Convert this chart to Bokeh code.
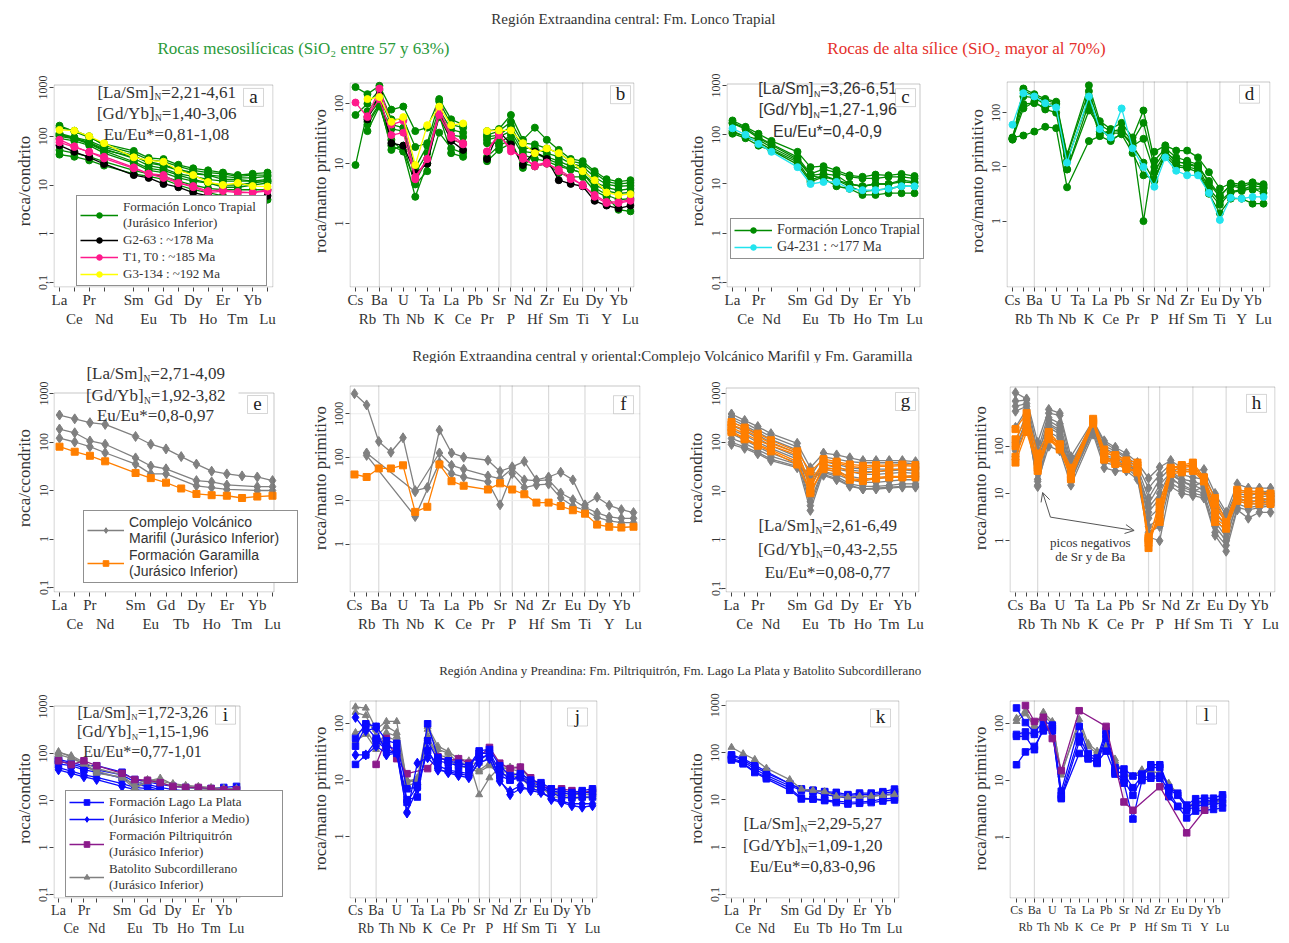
import math
from bokeh.plotting import figure
from bokeh.models import (FixedTicker, LinearAxis, Label, Legend, LegendItem, Arrow, OpenHead,
                          Span, CustomJSTickFormatter, Range1d, BoxAnnotation)
from bokeh.layouts import column, row
from bokeh.embed import file_html
from bokeh.resources import INLINE

SERIF = "Liberation Serif"
SANS = "Liberation Sans"
TXT = "#333333"

GREEN = "#008b00"; BLACK = "#000000"; PINK = "#ff1a8c"; YELLOW = "#ffff00"; CYAN = "#22e4ee"
GREY = "#808080"; ORANGE = "#ff7f00"; BLUE = "#0a0aff"; PURPLE = "#8b1a8b"

# ---------------- element lists / tick labels ----------------
REE_LABELS = ["La", "Ce", "Pr", "Nd", "Sm", "Eu", "Gd", "Tb", "Dy", "Ho", "Er", "Tm", "Yb", "Lu"]
REE_X = [0, 1, 2, 3, 5, 6, 7, 8, 9, 10, 11, 12, 13, 14]
SPIDER_LABELS = ["Cs", "Rb", "Ba", "Th", "U", "Nb", "Ta", "K", "La", "Ce", "Pb", "Pr", "Sr", "P",
                 "Nd", "Hf", "Zr", "Sm", "Eu", "Ti", "Dy", "Y", "Yb", "Lu"]
SPIDER_X = list(range(24))
SPIDER_VLINES = [2, 12, 13, 16, 19]

# ---------------- data (normalised values) ----------------
A_GREEN = [
    [165, 125, 95, 70, 50, 36, 34, 26, 22, 20, 18, 16, 17, 18],
    [150, 130, 100, 65, 45, 33, 30, 24, 20, 18, 17, 15, 16, 16],
    [115, 95, 80, 60, 40, 28, 25, 20, 17, 16, 15, 14, 14, 15],
    [105, 92, 75, 55, 35, 25, 22, 17, 15, 13, 12, 12, 12, 13],
    [100, 88, 70, 50, 30, 22, 20, 16, 13, 11, 10, 10, 11, 12],
    [90, 80, 65, 45, 28, 20, 18, 14, 12, 11, 9, 9, 10, 11],
    [52, 45, 38, 30, 20, 17, 15, 12, 10, 8.5, 8, 8, 8, 8],
    [42, 38, 32, 25, 17, 15, 13, 10, 8, 7, 6, 6, 5.5, 5],
    [110, 90, 72, 52, 38, 30, 26, 21, 18, 16, 13, 13, 12, 12],
]
A_BLACK = [[65, 48, 37, 27, 16, 14, 10.5, 9, 7, 6, 5, 5.3, 5.5, 6]]
A_PINK = [[85, 62, 47, 38, 23, 17, 14, 11, 9, 7, 7.5, 7, 7, 7.5],
          [75, 60, 48, 35, 22, 17, 16, 11, 9.5, 7.5, 8, 7.2, 7, 8]]
A_YELLOW = [[135, 130, 100, 72, 37, 32, 30, 20, 16, 11.5, 10, 11, 9.5, 9.3]]

B_GREEN = [
    [190, 145, 200, 80, 90, 35, 40, 120, 55, 45, None, 35, 38, 65, 25, 40, 25, 17, 12, 11, 7.5, 5.5, 5, 5.3],
    [65, 100, 170, 55, 55, 19, 22, 110, 45, 40, None, 30, 35, 50, 22, 21, 18, 15, 11, 10, 7, 5, 4.6, 4.8],
    [9.5, 75, 130, 45, 40, 8.5, 20, 80, 37, 33, None, 28, 30, 42, 18, 18, 15, 13, 10, 9, 6, 4.5, 4.2, 4.3],
    [None, 50, 100, 38, 35, 7, 15, 70, 30, 28, None, 25, 28, 35, 16, 15, 13, 11, 9, 8, 5, 4, 3.6, 3.8],
    [None, 35, 90, 25, 16, 5, 12, 60, 25, 22, None, 22, 22, 30, 14, 12, 11, 9, 8, 7, 4.5, 3.5, 3.2, 3.3],
    [None, 60, 110, 17, 20, 4.5, 7.5, 33, 18, 15, None, 11, 17, 22, 10, 9, 10, 7, 6, 6, 3.5, 2.8, 1.7, 1.6],
    [None, 45, 95, 20, 16, 2.8, 10, 65, 15, 13, None, 13, 20, 25, 8.5, 15, 12, 10, 8, 7, 4, 3, 2.5, 2.6],
]
B_BLACK = [[None, 55, 140, 22, 20, 7, 10, 70, 24, 17, None, 12, 35, 21, 9.5, 16, 12, 5.3, 4.6, 4.2, 2.4, 2.0, 1.8, 2.0]]
B_PINK = [[105, 60, 180, 45, 52, 6, 12, 80, 30, 22, None, 16, 32, 16, 13, 9, 10, 8, 6, 4.3, 3, 2.3, 2.3, 2.5],
          [None, 62, 120, 30, 33, 5.5, 12, 65, 27, 21, None, 16, 30, 18, 12, 9.5, 10.5, 7.5, 5.5, 4.5, 2.8, 2.2, 2.2, 2.4]]
B_YELLOW = [[None, 120, 130, 50, 60, 9.5, 44, 90, 44, 47, None, 35, 36, 36, 22, 15, 18, 15, 11, 7.5, 5.3, 3.3, 3.0, 3.1]]

C_GREEN = [
    [195, 145, 105, 75, 45, 22, 23, 19, 15, 14, 15.5, 15, 16, 14.5],
    [175, 140, 90, 65, 35, 16, 20, 17, 14, 13, 13, 14, 14, 13],
    [110, 95, 80, 55, 30, 15, 16, 15, 10, 9, 10, 10, 12, 11],
    [105, 85, 60, 48, 25, 11, 14, 12, 9, 7, 7.5, 8, 9, 9],
    [170, 130, 85, 62, 32, 15, 13, 9, 8, 6, 6, 6.5, 6.5, 6.5],
    [120, 90, 70, 50, 28, 12, 15, 12, 10, 9, 10, 10, 11, 10.5],
]
C_CYAN = [[135, 100, 65, 45, 22, 10, 11, 11, 8, 7.5, 7.5, 8, 9, 9]]

D_GREEN = [
    [35, 38, 45, 55, 52, 4.2, None, 30, 37, 30, 42, 28, 1.0, 19, 25, 20, 20, 15, 8, 4, 5, 4.8, 5.2, 4.8],
    [32, 280, 220, 180, 160, 17, None, 320, 70, 50, 65, 35, 110, 13, 22, 15, 13, 11, 5, 2.8, 4.8, 4.3, 5, 4.5],
    [33, 260, 200, 170, 150, 16, None, 250, 60, 45, 50, 30, 65, 10, 20, 12, 12, 10, 4, 2.3, 3.5, 3.8, 4.5, 4.2],
    [34, 145, 150, 125, 140, 9, None, 150, 40, 48, 45, 24, 33, 8, 18, 11, 10, 9, 3.5, 2.0, 3.4, 3.6, 4, 3.3],
    [33, 120, 160, 115, 100, 9, None, 110, 55, 32, 40, 18, 7, 6, 16, 10, 9.5, 8, 3.2, 1.4, 2.6, 2.6, 2.1, 2.1],
    [32, 200, 190, 140, 150, 13, None, 180, 45, 42, 42, 25, 12, 5.5, 19, 13, 11, 10, 5.5, 3, 4.5, 4, 3.8, 4.0],
]
D_CYAN = [[60, 230, 200, 150, 125, 12, None, 200, 50, 35, 120, 22, 10, 4.3, 15, 8.5, 7, 7, 3.3, 1.05, 2.7, 2.6, 2.8, 2.8]]

E_GREY = [
    [360, 300, 250, 230, 130, 90, 72, 50, 35, 25, 22, 20, 19, 16],
    [185, 155, 105, 90, 47, 32, 28, None, 16, 15, 13, None, 12, 12],
    [120, 100, 80, 60, 35, 22, 22, None, 12.5, 11.5, 10.5, None, 10, 10],
]
E_ORANGE = [[80, 63, 52, 40, 23, 18, 14.5, 11, 8.5, 8, 7.8, 7, 7.5, 7.8]]

F_GREY = [
    [2900, 1600, 230, 130, 280, 17, 20, 420, 125, 100, None, 85, 47, 60, 80, 30, 35, 45, 30, 8, 12, 7.8, 6.2, 5.3],
    [None, 125, None, None, None, 16, None, 125, 65, 53, None, 37, 32, 55, 30, 29, 30, 15, 10.5, 7, 5.2, 4.2, 3.9, 3.9],
    [None, 110, None, None, None, 4.3, None, 75, 42, 35, None, 27, 8, 42, 20, 23, 24, 11.5, 7.5, 6, 4.1, 3.4, 3.1, 3.1],
]
F_ORANGE = [[40, 35, 55, 55, 65, 5.5, 7.2, 68, 28, 22, None, 18, 25, 18, 14, 9, 9, 7.5, 6, 5, 2.8, 2.5, 2.4, 2.5]]

G_GREY = [
    [380, 280, 210, 150, 95, 30, 60, 55, 48, 42, 42, 42, 42, 40],
    [330, 250, 180, 130, 80, 20, 50, 45, 40, 38, 38, 38, 38, 36],
    [300, 220, 160, 115, 70, 12, 40, 35, 30, 28, 28, 28, 28, 28],
    [260, 200, 140, 100, 60, 8, 35, 30, 27, 25, 25, 26, 27, 26],
    [220, 170, 120, 85, 50, 6, 30, 28, 25, 22, 22, 23, 24, 23],
    [180, 140, 100, 75, 45, 5, 28, 25, 20, 18, 18, 19, 20, 20],
    [150, 110, 80, 60, 38, 4, 25, 22, 17, 15, 15, 16, 17, 17],
    [120, 95, 70, 52, 35, 18, 24, 20, 14, 12.5, 12.5, 13, 14, 14],
    [100, 80, 62, 45, 32, 22, 22, 18, 13, 11, 11, 11.5, 12, 12],
    [90, 75, 58, 42, 30, 25, 21, 17, 12.5, 11, 11.5, 12, 12.5, 12.5],
]
G_ORANGE = [
    [260, 200, 150, 110, 65, 25, 45, 40, 35, 33, 34, 34, 35, 34],
    [230, 180, 130, 95, 60, 15, 40, 38, 32, 30, 32, 32, 33, 32],
    [200, 150, 110, 85, 55, 12, 35, 32, 25, 23, 25, 27, 28, 27],
    [170, 120, 90, 70, 40, 9, 30, 28, 18, 17, 19, 20, 20, 21],
    [160, 115, 85, 65, 35, 10, 28, 25, 17, 16, 18, 19, 19, 19],
]

H_GREY = [
    [1350, 1000, 120, 600, 500, 60, None, 350, 130, 95, 70, 45, 21, 36, 50, 35, 30, 32, 10, 4, 16, 13, 13, 13],
    [900, 950, 80, 500, 450, 45, None, 320, 120, 85, 60, 40, 13, 25, 42, 30, 28, 25, 8, 3.5, 12, 11, 11, 11],
    [700, 800, 60, 400, 300, 40, None, 300, 100, 80, 55, 35, 8, 20, 35, 25, 22, 20, 6, 3, 10, 9, 10, 10],
    [550, 700, 30, 350, 250, 35, None, 280, 90, 70, 50, 30, 5, 10, 30, 20, 18, 15, 4, 2, 9, 8, 8.5, 9],
    [250, 600, 20, 280, 200, 30, None, 250, 75, 60, 45, 28, 3, 5, 25, 18, 15, 12, 3, 1.5, 8, 7, 7, 8],
    [120, 500, 15, 200, 150, 25, None, 220, 60, 50, 40, 25, 2, 3, 20, 15, 12, 10, 2, 1, 7, 6, 6, 7],
    [80, 400, 14, 150, 120, 20, None, 200, 45, 40, 35, 22, 1.5, 2, 17, 12, 10, 9, 1.5, 0.8, 5, 4.5, 5, 5.5],
    [60, 300, 18, 100, 80, 15, None, 180, 35, 30, 30, 20, 1.2, 1.0, 14, 10, 9, 8, 1.3, 0.6, 4.5, 3, 4, 4],
    [100, 350, 50, 250, 180, 18, None, 230, 55, 45, 38, 26, 4, 8, 22, 14, 11, 14, 2.5, 1.2, 6, 5, 5.5, 6],
    [60, 450, 70, 300, 220, 22, None, 260, 65, 55, 42, 28, 6, 15, 28, 18, 14, 18, 5, 2.5, 8, 6.5, 7, 7.5],
]
H_ORANGE = [
    [230, 500, 70, 200, 110, 35, None, 380, 85, 65, 50, 45, 1.0, 6.5, 35, 40, 45, 22, 8, 2.5, 12, 11, 11, 10],
    [140, 400, 50, 180, 100, 30, None, 350, 75, 60, 45, 40, 0.7, 5, 33, 38, 40, 20, 6, 2.3, 11, 10, 10, 9],
    [100, 300, 40, 160, 90, 25, None, 320, 60, 48, 40, 35, 0.9, 4, 30, 35, 38, 20, 4, 2.2, 9, 8, 8, 7.5],
    [60, 250, 30, 140, 85, 22, None, 300, 55, 45, 35, 30, 1.1, 3, 28, 30, 33, 19, 3, 2.0, 8, 6.5, 7, 6.5],
    [45, 200, 35, 150, 95, 20, None, 330, 52, 42, 33, 28, 1.2, 2.5, 26, 28, 30, 18, 2.5, 1.8, 7, 6, 6, 6],
]

I_BLUE_SQ = [
    [75, 65, 55, 55, 40, 28, 25, 22, 20, 19, 18, 18, 19, 20],
    [70, 60, 50, 45, 35, 25, 22, 19, 17, 16, 14, 15, 16, 17],
    [60, 55, 45, 40, 30, 22, 20, 17, 15, 14, 13, 12, 13, 13],
]
I_BLUE_DIA = [
    [45, 38, 32, 28, 20, 17, 16, 15, 12, 11, 10, 9.5, 10, 10.5],
    [50, 42, 35, 31, 23, 19, 18, 16, 13, 12, 11, 11, 11, 11.5],
]
I_PURPLE = [[70, 58, 70, 55, 38, 28, 27, 24, 20, 19, 19, 18, 17, 17]]
I_GREY = [
    [105, 90, 65, 48, 35, 19, 26, 30, 22, 20, 19, 18, 18, 17],
    [95, 80, 60, 42, 30, 18, 25, 24, 20, 19, 18, 17, 17, 16],
    [110, 85, 60, 38, 32, 22, 28, 26, 23, 21, 20, 19, 18, 18],
]

J_GREY = [
    [200, 190, 80, 110, 110, 9, 11, 90, 40, 32, 24, 22, 5.5, 11, 17, 17, 17, 10, 8, 5, 6.5, 6, 6, 6],
    [160, 140, 60, 90, 70, 10, 10, 80, 35, 30, 20, 20, 20, 25, 16, 16, 14, 9, 7, 6, 6, 5.5, 5.5, 5.5],
    [70, 80, 40, 70, 60, 8, 9, 60, 28, 25, 20, 18, 15, 20, 14, 14, 12, 8, 7, 6, 5.5, 5, 5, 5],
    [50, 65, 35, 60, 50, 10, 9, 55, 25, 22, 18, 16, 14, 18, 13, 12, 11, 7.5, 6, 5, 5, 4.8, 4.8, 5],
]
J_BLUE_SQ = [
    [55, 100, 90, 50, 45, 7, 7.5, 100, 25, 22, 20, 18, 33, 35, 18, 12, 13, 10, 9, 7, 6.5, 6, 6.5, 7],
    [40, 90, 55, 40, 35, 4.5, 5, 50, 22, 20, 18, 17, 30, 30, 15, 10, 12, 9, 8, 6.5, 6, 5.5, 6, 6],
    [19, 28, 50, 35, 30, 4, 8, 33, 18, 15, 14, 13, 25, 28, 12, 10, 11, 8, 7.5, 6, 5, 4.8, 5, 5],
]
J_BLUE_DIA = [
    [130, 75, 85, 28, 30, 2.6, 20, 25, 16, 13.5, 12, 11, 22, 30, 10, 5.5, 7, 7, 6.5, 4.5, 4, 3.5, 3.3, 3.5],
    [28, 28, 40, 30, 32, 2.7, 7, 35, 15, 14, 13, 12, 20, 24, 9.5, 6.3, 8, 6.5, 6, 4.8, 4.2, 3.8, 3.8, 3.8],
]
J_PURPLE = [[None, None, 19, 55, 24, 13, None, 16, 26, 22, 24, 20, 26, 38, 20, 16, 17, 11, 8, 7, 7, 6.5, 6, 6.5]]

K_BLUE = [
    [90, 75, 55, 40, 22, 17, 16, 15, 14.5, 13, 14, 14, 15, 17],
    [85, 70, 50, 37, 22, 17, 16, 15, 13, 12.5, 13, 13, 14, 15],
    [75, 65, 45, 33, 20, 16, 15, 13, 12, 11, 11.5, 12, 13, 13.5],
    [72, 60, 40, 30, 18, 11, 10.5, 10, 9.5, 9, 9, 9.5, 10.5, 11],
    [70, 58, 38, 28, 16, 10.5, 10.5, 9.7, 8.8, 8.2, 8.5, 8.8, 9.5, 10],
]
K_GREY = [[130, 95, 72, 47, 27, 17, 16, 15, 12, 11.5, 12, 12, 12.5, 13]]

L_BLUE = [
    [190, 105, 70, 110, 95, 6.5, None, 90, 30, 25, 75, 17, 16, 12, 13, 19, 19, 7.5, 6, 3.7, 4.8, 4.9, 4.9, 5.6],
    [65, 72, 65, 80, 85, 5.5, None, 60, 28, 22, 65, 15, 13, 7.5, 12, 17, 17, 7, 5.5, 3.3, 4, 4.5, 4.3, 5],
    [19, 32, 40, 75, 80, 4.8, None, 48, 25, 20, 55, 14, 10, 5.5, 11, 12, 12, 6.5, 3.5, 3.0, 3.5, 3.8, 3.9, 4],
    [60, 60, 35, 85, 75, 5, None, 30, 24, 21, 33, 13, 9, 2.1, 10, 11, 11, 5.2, 3.5, 2.2, 2.9, 3.0, 3.1, 3.3],
]
L_PURPLE = [[None, 210, 110, 130, 55, 15, None, 170, None, None, 90, None, 4.2, 3.0, None, None, 7.8, None, None, 1.2, None, 3.0, None, None]]
L_GREY = [
    [125, 170, 95, 160, 110, 12.5, None, 120, 45, 33, 40, 24, 12, 12, 15.5, 14, 14, 9, 5.8, 3.2, 4.0, 4.0, 4.1, 4.4],
    [110, 150, 90, 140, 100, 14, None, 100, 40, 30, 35, 22, 13, 12, 15, 15, 13, 8.5, 5.5, 3.4, 4.2, 4.1, 4.3, 4.6],
]

# ---------------- layout geometry (page px) ----------------
COLS = [(0, 300), (300, 670), (670, 960), (960, 1289)]
# (row top, row height, common frame top, common frame bottom)
ROW1 = (60, 275, 74, 287)
ROW2 = (363, 287, 363, 592)
ROW3 = (685, 257, 698, 898)

W_SERIF = {"[": .333, "]": .333, "L": .611, "a": .444, "/": .278, "S": .556, "m": .778, "G": .722,
           "d": .5, "Y": .722, "b": .5, "=": .564, ",": .25, "-": .333, "N": .722}
W_SANS = {"[": .278, "]": .278, "L": .556, "a": .556, "/": .278, "S": .667, "m": .833, "G": .778,
          "d": .556, "Y": .667, "b": .556, "=": .584, ",": .278, "-": .333, "N": .722}


def text_w(s, font, size):
    tab = W_SERIF if font == SERIF else W_SANS
    dflt = .5 if font == SERIF else .556
    return sum(tab.get(ch, dflt) for ch in s) * size


def make_panel(c):
    fx0, fx1 = c["fig_x"]
    rtop, rh, ft, fb = c["row"]
    vl, vr = c["vis_x"]           # visual frame left/right
    vt, vb = c["vis_y"]           # visual frame top/bottom (reference)
    fl = vl
    fr = c.get("fr", vr)          # bokeh frame right (may extend)

    def act(y):
        return vt + (y - vt) * (fb - vt) / (vb - vt)

    def ref(y):
        return vt + (y - vt) * (vb - vt) / (fb - vt)

    if c["kind"] == "ree":
        labels, xpos = REE_LABELS, REE_X
    else:
        labels, xpos = SPIDER_LABELS, SPIDER_X
    px0, px1 = c["xcal"]
    unit = (px1 - px0) / (xpos[-1] - xpos[0])
    xlo = xpos[0] + (fl - px0) / unit
    xhi = xpos[0] + (fr - px0) / unit
    py1, v1, py2, v2 = c["ycal"]
    dpx = (py2 - py1) / (math.log10(v1) - math.log10(v2))

    def val(yref):
        return 10 ** (math.log10(v1) + (py1 - yref) / dpx)

    yhi = val(ref(ft))
    ylo = val(vb)
    yvis = val(vt)

    p = figure(width=fx1 - fx0, height=rh, y_axis_type="log", title=None,
               x_range=Range1d(xlo, xhi), y_range=Range1d(ylo, yhi),
               output_backend="svg", toolbar_location=None,
               min_border_left=fl - fx0, min_border_right=fx1 - fr,
               min_border_top=ft - rtop, min_border_bottom=rtop + rh - fb,
               background_fill_color="white", border_fill_color="white")
    p.outline_line_color = None
    p.xgrid.visible = False
    p.ygrid.visible = False

    def scr(px, py):
        return px - fl, fb - act(py)

    # y axis
    ya = p.yaxis[0]
    ya.ticker = FixedTicker(ticks=c["yticks"], minor_ticks=[])
    ya.formatter = CustomJSTickFormatter(code="return String(tick).replace('.', ',');")
    ya.major_label_orientation = "vertical"
    ya.major_label_text_font = SERIF
    ya.major_label_text_font_size = "12px"
    ya.major_label_text_color = TXT
    ya.major_label_standoff = 2
    ya.major_tick_out = 4
    ya.major_tick_in = 0
    ya.axis_line_color = None
    ya.major_tick_line_color = "#444444"
    ya.axis_label = c["ylabel"]
    ya.axis_label_text_font = SERIF
    ya.axis_label_text_font_size = "17px"
    ya.axis_label_text_font_style = "normal"
    ya.axis_label_text_color = TXT
    ya.axis_label_standoff = 3

    fs = c.get("xfont", "15px")
    top_lab = {xpos[i]: (labels[i] if i % 2 == 0 else "") for i in range(len(labels))}
    bot_ticks = [xpos[i] for i in range(len(labels)) if i % 2 == 1]
    bot_lab = {xpos[i]: labels[i] for i in range(len(labels)) if i % 2 == 1}
    xa = p.xaxis[0]
    xa.ticker = FixedTicker(ticks=xpos, minor_ticks=[])
    xa.major_label_overrides = top_lab
    xa.major_label_text_font = SERIF
    xa.major_label_text_font_size = fs
    xa.major_label_text_color = TXT
    xa.major_label_standoff = 0
    xa.major_tick_out = 4
    xa.major_tick_in = 0
    xa.axis_line_color = None
    xa.major_tick_line_color = "#444444"
    xb = LinearAxis(ticker=FixedTicker(ticks=bot_ticks, minor_ticks=[]),
                    major_label_overrides=bot_lab,
                    major_label_text_font=SERIF, major_label_text_font_size=fs,
                    major_label_text_color=TXT, major_label_standoff=0,
                    major_tick_out=0, major_tick_in=0, axis_line_color=None,
                    major_tick_line_color=None, minor_tick_line_color=None)
    p.add_layout(xb, "below")

    # grid lines limited to the visual frame
    if c["kind"] == "spider":
        vx = SPIDER_VLINES
        p.segment(x0=vx, y0=[ylo] * len(vx), x1=vx, y1=[yvis] * len(vx),
                  line_color="#dadada", line_width=1.2, level="underlay")
    if c.get("hgrid"):
        for v in c["yticks"]:
            p.add_layout(Span(location=v, dimension="width", line_color="#ececec",
                              line_width=1, level="underlay"))

    # data
    groups = {}
    for key, series, color, marker, size in c["series"]:
        first = None
        for s in series:
            xs, ys = [], []
            for x, v in zip(xpos, s):
                if v is None:
                    if not c.get("connect", True):
                        xs.append(x)
                        ys.append(float("nan"))
                    continue
                xs.append(x)
                ys.append(v)
            ln = p.line(xs, ys, line_color=color, line_width=1.3)
            mk = p.scatter(xs, ys, marker=marker, size=size, fill_color=color, line_color=color)
            if first is None:
                first = [ln, mk]
        groups[key] = first

    # visual frame box
    bx_r = vr - fl - 0.5
    bx_t = fb - vt - 0.5
    p.add_layout(BoxAnnotation(left=0.5, right=bx_r, bottom=0.5, top=bx_t,
                               left_units="screen", right_units="screen",
                               bottom_units="screen", top_units="screen",
                               fill_alpha=0.0, line_color="#444444", line_width=1,
                               level="annotation"))
    if "mask" in c:
        mx0, mx1, my0, my1 = c["mask"]
        a0, b0 = scr(mx0, my1)
        a1, b1 = scr(mx1, my0)
        p.add_layout(BoxAnnotation(left=a0, right=a1, bottom=b0, top=b1,
                                   left_units="screen", right_units="screen",
                                   bottom_units="screen", top_units="screen",
                                   fill_color="white", fill_alpha=1.0, line_color=None,
                                   level="annotation"))

    # stats text
    if "stats" in c:
        font, size, cx, lines = c["stats"]
        for item, py in lines:
            if isinstance(item, tuple):
                left, right = item
                wl = text_w(left, font, size)
                wn = text_w("N", font, size * 0.55)
                wr = text_w(right, font, size)
                x0 = cx - (wl + wn + wr) / 2
                sx, sy = scr(x0 + wl, py)
                p.add_layout(Label(x=sx, y=sy, x_units="screen", y_units="screen", text=left,
                                   text_font=font, text_font_size=f"{size}px", text_color=TXT,
                                   text_align="right", text_baseline="middle"))
                p.add_layout(Label(x=sx + 0.5, y=sy - 5, x_units="screen", y_units="screen", text="N",
                                   text_font=font, text_font_size=f"{size * 0.55:.1f}px",
                                   text_color=TXT, text_align="left", text_baseline="middle"))
                p.add_layout(Label(x=sx + wn + 0.5, y=sy, x_units="screen", y_units="screen", text=right,
                                   text_font=font, text_font_size=f"{size}px", text_color=TXT,
                                   text_align="left", text_baseline="middle"))
            else:
                sx, sy = scr(cx, py)
                p.add_layout(Label(x=sx, y=sy, x_units="screen", y_units="screen", text=item,
                                   text_font=font, text_font_size=f"{size}px", text_color=TXT,
                                   text_align="center", text_baseline="middle"))

    # letter box
    lx, ly = scr(*c["letter_pos"])
    p.add_layout(BoxAnnotation(left=lx - 10, right=lx + 10, bottom=ly - 9, top=ly + 9,
                               left_units="screen", right_units="screen",
                               bottom_units="screen", top_units="screen",
                               fill_color="white", fill_alpha=1.0, line_color="#777777",
                               line_width=1, level="annotation"))
    p.add_layout(Label(x=lx, y=ly + 1, x_units="screen", y_units="screen", text=c["letter"],
                       text_font=SERIF, text_font_size="19px", text_color="#222222",
                       text_align="center", text_baseline="middle"))

    # legend  (location = bottom-left corner, y up from frame bottom)
    if "legend" in c:
        lg = c["legend"]
        lx0, ly0 = scr(*lg["pos"])
        items = [LegendItem(label=lab, renderers=groups[key]) for key, lab in lg["items"]]
        leg = Legend(items=items, location=(lx0, max(ly0, 1)), label_text_font=lg["font"],
                     label_text_font_size=lg["size"], label_text_color=TXT,
                     label_text_line_height=1.0,
                     glyph_width=lg["glyph_w"], glyph_height=14, label_height=14,
                     label_width=lg["label_w"], label_standoff=5, spacing=1,
                     padding=3, margin=0, border_line_color="#222222", border_line_width=1.3,
                     background_fill_color="white", background_fill_alpha=1.0)
        p.add_layout(leg)

    if "extra" in c:
        c["extra"](p)
    return p


def h_annot(p):
    head = OpenHead(size=9, line_color="#555555", line_width=1)
    p.add_layout(Arrow(end=head, x_start=3.15, y_start=3.16, x_end=2.45, y_end=10.5,
                       line_color="#555555", line_width=1))
    head2 = OpenHead(size=9, line_color="#555555", line_width=1)
    p.add_layout(Arrow(end=head2, x_start=3.15, y_start=3.16, x_end=10.7, y_end=1.65,
                       line_color="#555555", line_width=1))
    p.add_layout(Label(x=6.75, y=0.91, text="picos negativos", text_font=SERIF,
                       text_font_size="13px", text_color=TXT, text_align="center",
                       text_baseline="middle"))
    p.add_layout(Label(x=6.75, y=0.46, text="de Sr y de Ba", text_font=SERIF,
                       text_font_size="13px", text_color=TXT, text_align="center",
                       text_baseline="middle"))


REE_T = [0.1, 1, 10, 100, 1000]
SP_T = [1, 10, 100]

panels = [
    dict(kind="ree", fig_x=COLS[0], row=ROW1, vis_x=(53, 273), vis_y=(84, 288), xcal=(59, 267),
         ycal=(87, 1000, 283, 0.1), yticks=REE_T, ylabel="roca/condrito", letter="a", letter_pos=(253, 97),
         series=[("g", A_GREEN, GREEN, "circle", 7), ("k", A_BLACK, BLACK, "circle", 7),
                 ("p", A_PINK, PINK, "circle", 7), ("y", A_YELLOW, YELLOW, "circle", 7)],
         stats=(SERIF, 17, 166, [(("[La/Sm]", "=2,21-4,61"), 92), (("[Gd/Yb]", "=1,40-3,06"), 113),
                                 ("Eu/Eu*=0,81-1,08", 134)]),
         legend=dict(pos=(76, 290), font=SERIF, size="13px", glyph_w=38, label_w=140,
                     items=[("g", "Formación Lonco Trapial\n(Jurásico Inferior)"), ("k", "G2-63 : ~178 Ma"),
                            ("p", "T1, T0 : ~185 Ma"), ("y", "G3-134 : ~192 Ma")])),
    dict(kind="spider", fig_x=COLS[1], row=ROW1, vis_x=(349, 634), vis_y=(82, 284), xcal=(355, 630),
         ycal=(103, 100, 221, 1), yticks=SP_T, ylabel="roca/manto primitivo", letter="b", letter_pos=(620, 94),
         connect=False,
         series=[("g", B_GREEN, GREEN, "circle", 7), ("k", B_BLACK, BLACK, "circle", 7),
                 ("p", B_PINK, PINK, "circle", 7), ("y", B_YELLOW, YELLOW, "circle", 7)]),
    dict(kind="ree", fig_x=COLS[2], row=ROW1, vis_x=(726, 920), vis_y=(83, 285), fr=930, xcal=(732, 914),
         ycal=(85, 1000, 280, 0.1), yticks=REE_T, ylabel="roca/condrito", letter="c", letter_pos=(905, 97),
         series=[("g", C_GREEN, GREEN, "circle", 7), ("c", C_CYAN, CYAN, "circle", 7)],
         stats=(SANS, 16, 827, [(("[La/Sm]", "=3,26-6,51"), 88), (("[Gd/Yb]", "=1,27-1,96"), 109),
                                ("Eu/Eu*=0,4-0,9", 131)]),
         legend=dict(pos=(730, 257), font=SERIF, size="14px", glyph_w=38, label_w=140,
                     items=[("g", "Formación Lonco Trapial"), ("c", "G4-231 : ~177 Ma")])),
    dict(kind="spider", fig_x=COLS[3], row=ROW1, vis_x=(1006, 1270), vis_y=(81, 292),
         xcal=(1012, 1263), ycal=(113, 100, 224, 1), yticks=SP_T, ylabel="roca/manto primitivo",
         letter="d", letter_pos=(1249, 94),
         series=[("g", D_GREEN, GREEN, "circle", 7), ("c", D_CYAN, CYAN, "circle", 7)]),
    dict(kind="ree", fig_x=COLS[0], row=ROW2, vis_x=(53, 274), vis_y=(392, 592), fr=300,
         xcal=(59, 272), ycal=(393, 1000, 587, 0.1), yticks=REE_T, ylabel="roca/ccondrito",
         letter="e", letter_pos=(257, 404), mask=(101, 238, 386, 397),
         series=[("gr", E_GREY, GREY, "diamond", 10), ("o", E_ORANGE, ORANGE, "square", 7)],
         stats=(SERIF, 17, 155, [(("[La/Sm]", "=2,71-4,09"), 373), (("[Gd/Yb]", "=1,92-3,82"), 395),
                                 ("Eu/Eu*=0,8-0,97", 415)]),
         legend=dict(pos=(83, 583), font=SANS, size="14px", glyph_w=37, label_w=165,
                     items=[("gr", "Complejo Volcánico\nMarifil (Jurásico Inferior)"),
                            ("o", "Formación Garamilla\n(Jurásico Inferior)")])),
    dict(kind="spider", fig_x=COLS[1], row=ROW2, vis_x=(349, 640), vis_y=(385, 590), xcal=(354, 633),
         ycal=(413, 1000, 542, 1), yticks=[1, 10, 100, 1000], ylabel="roca/manto primitivo", hgrid=True,
         letter="f", letter_pos=(623, 404),
         series=[("gr", F_GREY, GREY, "diamond", 10), ("o", F_ORANGE, ORANGE, "square", 7)]),
    dict(kind="ree", fig_x=COLS[2], row=ROW2, vis_x=(725, 919), vis_y=(387, 592), xcal=(731, 915),
         ycal=(393, 1000, 588, 0.1), yticks=REE_T, ylabel="roca/condrito", letter="g", letter_pos=(905, 401),
         series=[("gr", G_GREY, GREY, "diamond", 10), ("o", G_ORANGE, ORANGE, "square", 7)],
         stats=(SERIF, 17, 827, [(("[La/Sm]", "=2,61-6,49"), 525), (("[Gd/Yb]", "=0,43-2,55"), 549),
                                 ("Eu/Eu*=0,08-0,77", 572)])),
    dict(kind="spider", fig_x=COLS[3], row=ROW2, vis_x=(1009, 1275), vis_y=(386, 593), xcal=(1015, 1270),
         ycal=(446, 100, 541, 1), yticks=SP_T, ylabel="roca/manto primitivo", letter="h", letter_pos=(1256, 403),
         series=[("gr", H_GREY, GREY, "diamond", 10), ("o", H_ORANGE, ORANGE, "square", 7)],
         extra=h_annot),
    dict(kind="ree", fig_x=COLS[0], row=ROW3, vis_x=(53, 240), vis_y=(705, 904), fr=288,
         xcal=(58, 236), ycal=(706, 1000, 900, 0.1), yticks=REE_T, ylabel="roca/condrito", letter="i",
         letter_pos=(225, 715), xfont="14px",
         series=[("bs", I_BLUE_SQ, BLUE, "square", 6.5), ("bd", I_BLUE_DIA, BLUE, "diamond", 10),
                 ("gt", I_GREY, GREY, "triangle", 7), ("pu", I_PURPLE, PURPLE, "square", 6.5)],
         stats=(SERIF, 16, 142, [(("[La/Sm]", "=1,72-3,26"), 712), (("[Gd/Yb]", "=1,15-1,96"), 732),
                                 ("Eu/Eu*=0,77-1,01", 752)]),
         legend=dict(pos=(65, 904), font=SERIF, size="13px", glyph_w=35, label_w=170,
                     items=[("bs", "Formación Lago La Plata"), ("bd", "(Jurásico Inferior a Medio)"),
                            ("pu", "Formación Piltriquitrón\n(Jurásico Inferior)"),
                            ("gt", "Batolito Subcordillerano\n(Jurásico Inferior)")])),
    dict(kind="spider", fig_x=COLS[1], row=ROW3, vis_x=(349, 597), vis_y=(700, 904),
         xcal=(355, 592), ycal=(724, 100, 840, 1), yticks=SP_T, ylabel="roca/manto primitivo", letter="j",
         letter_pos=(577, 717), xfont="14px",
         series=[("gt", J_GREY, GREY, "triangle", 7), ("pu", J_PURPLE, PURPLE, "square", 6.5),
                 ("bs", J_BLUE_SQ, BLUE, "square", 6.5), ("bd", J_BLUE_DIA, BLUE, "diamond", 10)]),
    dict(kind="ree", fig_x=COLS[2], row=ROW3, vis_x=(725, 899), vis_y=(700, 904),
         xcal=(731, 894), ycal=(705, 1000, 900, 0.1), yticks=REE_T, ylabel="roca/condrito", letter="k",
         letter_pos=(880, 718), xfont="14px",
         series=[("bs", K_BLUE, BLUE, "square", 6.5), ("gt", K_GREY, GREY, "triangle", 7)],
         stats=(SERIF, 17, 812, [(("[La/Sm]", "=2,29-5,27"), 827), (("[Gd/Yb]", "=1,09-1,20"), 849),
                                 ("Eu/Eu*=0,83-0,96", 871)])),
    dict(kind="spider", fig_x=COLS[3], row=ROW3, vis_x=(1009, 1229), vis_y=(700, 904),
         xcal=(1016, 1222), ycal=(724, 100, 841, 1), yticks=SP_T, ylabel="roca/manto primitivo", letter="l",
         letter_pos=(1206, 715), xfont="12px",
         series=[("gt", L_GREY, GREY, "triangle", 7), ("bs", L_BLUE, BLUE, "square", 6.5),
                 ("pu", L_PURPLE, PURPLE, "square", 6.5)]),
]


def header(top, h, texts):
    p = figure(width=1289, height=h, x_range=Range1d(0, 1289), y_range=Range1d(0, h), title=None,
               output_backend="svg", toolbar_location=None, min_border=0,
               x_axis_location=None, y_axis_location=None,
               background_fill_color="white", border_fill_color="white")
    p.outline_line_color = None
    p.grid.visible = False
    for txt, px, py, size, color in texts:
        p.add_layout(Label(x=px, y=h - (py - top), text=txt, text_font=SERIF,
                           text_font_size=size, text_color=color, text_align="center",
                           text_baseline="middle"))
    return p


h1 = header(0, 60, [("Región Extraandina central: Fm. Lonco Trapial", 633, 18, "15px", TXT),
                    ("Rocas mesosilícicas (SiO₂ entre 57 y 63%)", 303, 48, "17px", "#2a9a3a"),
                    ("Rocas de alta sílice (SiO₂ mayor al 70%)", 966, 48, "17px", "#e5302b")])
h2 = header(335, 28, [("Región Extraandina central y oriental:Complejo Volcánico Marifil y Fm. Garamilla",
                       662, 355, "15px", TXT)])
h3 = header(650, 35, [("Región Andina y Preandina: Fm. Piltriquitrón, Fm. Lago La Plata y Batolito Subcordillerano",
                       680, 670, "13px", TXT)])

figs = [make_panel(c) for c in panels]
layout = column(h1, row(*figs[0:4]), h2, row(*figs[4:8]), h3, row(*figs[8:12]))

open("out.html", "w").write(file_html(layout, INLINE))
